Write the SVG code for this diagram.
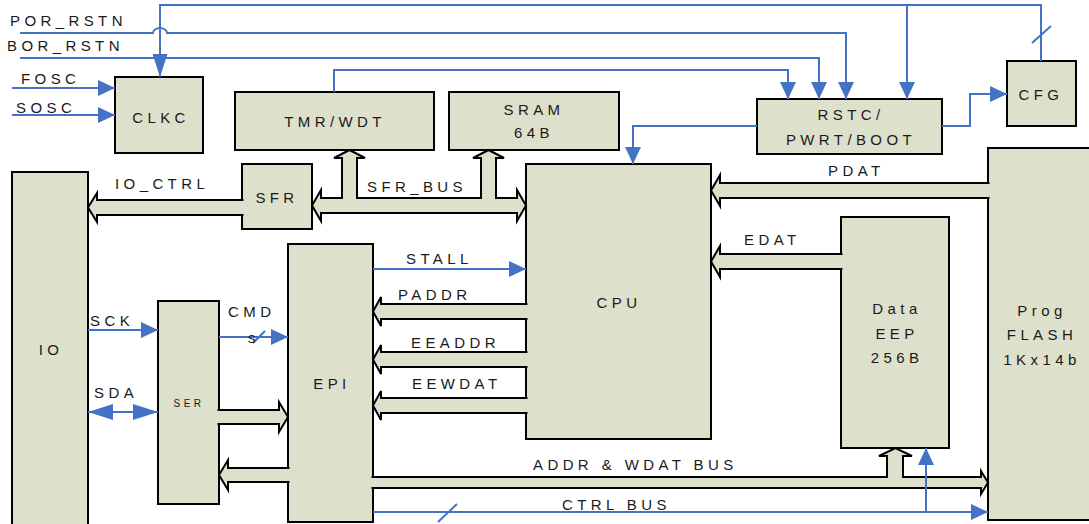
<svg xmlns="http://www.w3.org/2000/svg" width="1089" height="524" viewBox="0 0 1089 524">
<style>
.box{fill:#DDE0CB;stroke:#000;stroke-width:2}
.bus{fill:#DDE0CB;stroke:#000;stroke-width:2;stroke-linejoin:miter}
.wire{fill:none;stroke:#4472C4;stroke-width:2}
.t{font-family:"Liberation Sans",Arial,sans-serif;font-size:15px;letter-spacing:4.4px;fill:#1a1a1a}
.c{text-anchor:middle}
.sm{font-size:10px;letter-spacing:3.5px}
</style>
<defs>
<marker id="arr" markerUnits="userSpaceOnUse" markerWidth="17" markerHeight="16" refX="17" refY="8" orient="auto"><path d="M0,0 L17,8 L0,16 z" fill="#4472C4"/></marker>
<marker id="arrL" markerUnits="userSpaceOnUse" markerWidth="23" markerHeight="15" refX="23" refY="7.5" orient="auto"><path d="M0,0 L23,7.5 L0,15 z" fill="#4472C4"/></marker>
<marker id="arrS" markerUnits="userSpaceOnUse" markerWidth="25" markerHeight="16" refX="25" refY="8" orient="auto-start-reverse"><path d="M0,0 L25,8 L0,16 z" fill="#4472C4"/></marker>
</defs>
<rect width="1089" height="524" fill="#fff"/>
<g id="CLKC"><rect class="box" x="115" y="77" width="88" height="76"/><text class="t c" x="161" y="123">CLKC</text></g>
<g id="TMR"><rect class="box" x="235" y="92" width="199" height="58"/><text class="t c" x="335" y="127">TMR/WDT</text></g>
<g id="SRAM"><rect class="box" x="449" y="92" width="170" height="58"/><text class="t c" x="534" y="115">SRAM</text><text class="t c" x="534" y="138">64B</text></g>
<g id="RSTC"><rect class="box" x="757" y="99" width="185" height="55"/><text class="t c" x="851" y="120">RSTC/</text><text class="t c" x="851" y="145">PWRT/BOOT</text></g>
<g id="CFG"><rect class="box" x="1007" y="61" width="69" height="65"/><text class="t c" x="1041" y="100">CFG</text></g>
<g id="SFR"><rect class="box" x="242" y="164" width="70" height="65"/><text class="t c" x="277" y="203">SFR</text></g>
<g id="IO"><rect class="box" x="12" y="172" width="76" height="360"/><text class="t c" x="51" y="355">IO</text></g>
<g id="SER"><rect class="box" x="158" y="301" width="61" height="203"/><text class="t c sm" x="189" y="407">SER</text></g>
<g id="EPI"><rect class="box" x="288" y="244" width="85" height="278"/><text class="t c" x="332" y="389">EPI</text></g>
<g id="CPU"><rect class="box" x="526" y="164" width="185" height="275"/><text class="t c" x="619" y="308">CPU</text></g>
<g id="EEP"><rect class="box" x="841" y="217" width="108" height="231"/><text class="t c" x="897" y="314">Data</text><text class="t c" x="897" y="339">EEP</text><text class="t c" x="897" y="363">256B</text></g>
<g id="FLASH"><rect class="box" x="988" y="148" width="110" height="372"/><text class="t c" x="1042" y="316">Prog</text><text class="t c" x="1042" y="340">FLASH</text><text class="t c" x="1042" y="365">1Kx14b</text></g>
<g id="connectors">
<path class="bus" d="M243.5 200 H97 V193 L88 207.5 L97 222 V215 H243.5"/>
<path class="bus" d="M312 205.5 L321 190 V198 H342 V158 H334 L349.5 150 L365 158 H357 V198 H481 V158 H473 L488.5 150 L504 158 H496 V198 H517 V190 L526 205.5 L517 221 V213 H321 V221 Z"/>
<path class="bus" d="M989.5 183 H720 V175 L711 190.5 L720 206 V198 H989.5"/>
<path class="bus" d="M842.5 254 H720 V246 L711 261.5 L720 277 V269 H842.5"/>
<path class="bus" d="M527.5 304 H381 V297 L373 311.5 L381 326 V319 H527.5"/>
<path class="bus" d="M527.5 352 H381 V345 L373 359.5 L381 374 V367 H527.5"/>
<path class="bus" d="M527.5 398 H381 V391 L373 405.5 L381 420 V413 H527.5"/>
<path class="bus" d="M217.5 410 H279 V402 L288 417 L279 432 V424 H217.5"/>
<path class="bus" d="M289.5 468 H228 V460 L219 475 L228 490 V482 H289.5"/>
<path class="bus" d="M371.5 477 H887 V456 H879 L895.5 448 L912 456 H903 V477 H981 V471 L988 482.5 L981 494 V488 H371.5"/>
<path class="wire" d="M1041 61 V5 H160 V77" marker-end="url(#arrL)"/>
<path class="wire" d="M907 5 V99" marker-end="url(#arr)"/>
<path class="wire" d="M1032 43 L1051 26"/>
<path class="wire" d="M20 33 H153 A7 5 0 0 1 167 33 H846 V99" marker-end="url(#arr)"/>
<path class="wire" d="M20 58 H819 V99" marker-end="url(#arr)"/>
<path class="wire" d="M334 92 V70 H788 V99" marker-end="url(#arr)"/>
<path class="wire" d="M12 88 H115" marker-end="url(#arr)"/>
<path class="wire" d="M12 115 H115" marker-end="url(#arr)"/>
<path class="wire" d="M757 126 H633 V164" marker-end="url(#arr)"/>
<path class="wire" d="M942 126 H970 V94 H1007" marker-end="url(#arr)"/>
<path class="wire" d="M373 269 H526" marker-end="url(#arr)"/>
<path class="wire" d="M88 330 H158" marker-end="url(#arr)"/>
<path class="wire" d="M219 337 H288" marker-end="url(#arr)"/>
<path class="wire" d="M253 343 L265 331"/>
<path class="wire" d="M88 412 H158" marker-start="url(#arrS)" marker-end="url(#arrS)"/>
<path class="wire" d="M373 512 H988" marker-end="url(#arr)"/>
<path class="wire" d="M438 522 L457 504"/>
<path class="wire" d="M926 512 V448" marker-end="url(#arr)"/>
<text class="t" x="10" y="26">POR_RSTN</text>
<text class="t" x="7" y="51">BOR_RSTN</text>
<text class="t" x="21" y="84">FOSC</text>
<text class="t" x="16" y="113">SOSC</text>
<text class="t" x="115" y="189">IO_CTRL</text>
<text class="t" x="367" y="192">SFR_BUS</text>
<text class="t" x="828" y="176">PDAT</text>
<text class="t" x="744" y="245">EDAT</text>
<text class="t" x="406" y="264">STALL</text>
<text class="t" x="398" y="300">PADDR</text>
<text class="t" x="411" y="348">EEADDR</text>
<text class="t" x="412" y="389">EEWDAT</text>
<text class="t" x="90" y="326">SCK</text>
<text class="t" x="228" y="317">CMD</text>
<text class="t" x="248" y="343">s</text>
<text class="t" x="94" y="398">SDA</text>
<text class="t" x="533" y="470">ADDR &amp; WDAT BUS</text>
<text class="t" x="562" y="510">CTRL BUS</text>
</g>
</svg>
